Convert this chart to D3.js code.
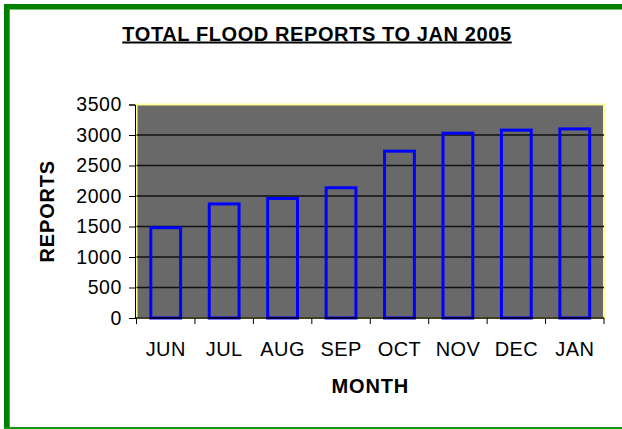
<!DOCTYPE html>
<html>
<head>
<meta charset="utf-8">
<script src="https://cdn.jsdelivr.net/npm/d3@7"></script>
<style>
  body { margin: 0; background: #fff; }
  svg text { font-family: "Liberation Sans", Arial, sans-serif; }
</style>
</head>
<body>
<div id="chart"></div>
<script>
// chart data
const months = ["JUN", "JUL", "AUG", "SEP", "OCT", "NOV", "DEC", "JAN"];
const reports = [1480, 1870, 1960, 2135, 2735, 3030, 3080, 3100];
const yTicks = [0, 500, 1000, 1500, 2000, 2500, 3000, 3500];

const width = 622, height = 429;
const plot = { left: 136.5, right: 604, top: 104.5, bottom: 318 };

const svg = d3.select("#chart")
    .append("svg")
    .attr("width", width)
    .attr("height", height);

// green frame
svg.append("rect").attr("x", 4).attr("y", 4).attr("width", width - 4).attr("height", 5.5).attr("fill", "#008000");
svg.append("rect").attr("x", 4).attr("y", 4).attr("width", 5.7).attr("height", 423).attr("fill", "#008000");
svg.append("rect").attr("x", 4).attr("y", 427).attr("width", width - 4).attr("height", 2).attr("fill", "#119911");

let x = d3.scaleBand()
    .domain(months)
    .range([plot.left, plot.right])
    .paddingInner(0.49)
    .paddingOuter(0.245);

let y = d3.scaleLinear()
    .domain([0, 3500])
    .range([plot.bottom, plot.top]);

// plot area
svg.append("rect")
    .attr("x", plot.left)
    .attr("y", plot.top)
    .attr("width", plot.right - plot.left)
    .attr("height", plot.bottom - plot.top)
    .attr("fill", "#696969")
    .attr("stroke", "#ffff99")
    .attr("stroke-width", 2);

// gridlines
svg.append("g")
    .selectAll("line")
    .data(yTicks.filter(d => d > 0 && d < 3500))
    .enter()
    .append("line")
    .attr("x1", plot.left)
    .attr("x2", plot.right)
    .attr("y1", d => y(d))
    .attr("y2", d => y(d))
    .attr("stroke", "#111")
    .attr("stroke-width", 1.5);

// bars (outline only)
svg.append("g")
    .selectAll("rect")
    .data(reports)
    .enter()
    .append("rect")
    .attr("x", (d, i) => x(months[i]))
    .attr("y", d => y(d))
    .attr("width", x.bandwidth())
    .attr("height", d => y(0) - y(d))
    .attr("fill", "none")
    .attr("stroke", "#0000ff")
    .attr("stroke-width", 3);

// y axis
let yAxis = svg.append("g")
    .attr("transform", `translate(${plot.left - 1.5},0)`)
    .call(d3.axisLeft(y).tickValues(yTicks).tickFormat(d3.format("d")).tickSize(6).tickPadding(7));
yAxis.select(".domain").attr("stroke", "#000");
yAxis.selectAll("text")
    .style("font-family", "'Liberation Sans', Arial, sans-serif")
    .style("font-size", "19.5px")
    .style("letter-spacing", "0.6px")
    .attr("fill", "#000");

// x axis: ticks between categories
let step = x.step();
let bounds = months.map(m => x(m) - step * x.paddingInner() / 2).concat([plot.right]);
let xAxis = svg.append("g");
xAxis.append("line")
    .attr("x1", plot.left - 1.5)
    .attr("x2", plot.right)
    .attr("y1", plot.bottom)
    .attr("y2", plot.bottom)
    .attr("stroke", "#000")
    .attr("stroke-width", 1.5);
xAxis.selectAll(".tick")
    .data(bounds)
    .enter()
    .append("line")
    .attr("x1", d => d)
    .attr("x2", d => d)
    .attr("y1", plot.bottom)
    .attr("y2", plot.bottom + 6)
    .attr("stroke", "#000");
xAxis.selectAll("text")
    .data(months)
    .enter()
    .append("text")
    .attr("x", d => x(d) + x.bandwidth() / 2)
    .attr("y", 356)
    .style("text-anchor", "middle")
    .style("font-size", "20px")
    .style("letter-spacing", "0.4px")
    .text(d => d);

// axis titles
svg.append("text")
    .attr("x", (plot.left + plot.right) / 2)
    .attr("y", 392.5)
    .style("text-anchor", "middle")
    .style("font-size", "20px")
    .style("font-weight", "bold")
    .style("letter-spacing", "0.8px")
    .text("MONTH");

svg.append("text")
    .attr("transform", `translate(54,${(plot.top + plot.bottom) / 2}) rotate(-90)`)
    .style("text-anchor", "middle")
    .style("font-size", "20px")
    .style("font-weight", "bold")
    .style("letter-spacing", "0.8px")
    .text("REPORTS");

// title
svg.append("text")
    .attr("x", 317)
    .attr("y", 40.5)
    .style("text-anchor", "middle")
    .style("font-size", "20px")
    .style("font-weight", "bold")
    .style("letter-spacing", "0.6px")
    .style("text-decoration", "underline")
    .text("TOTAL FLOOD REPORTS TO JAN 2005");
</script>
</body>
</html>
